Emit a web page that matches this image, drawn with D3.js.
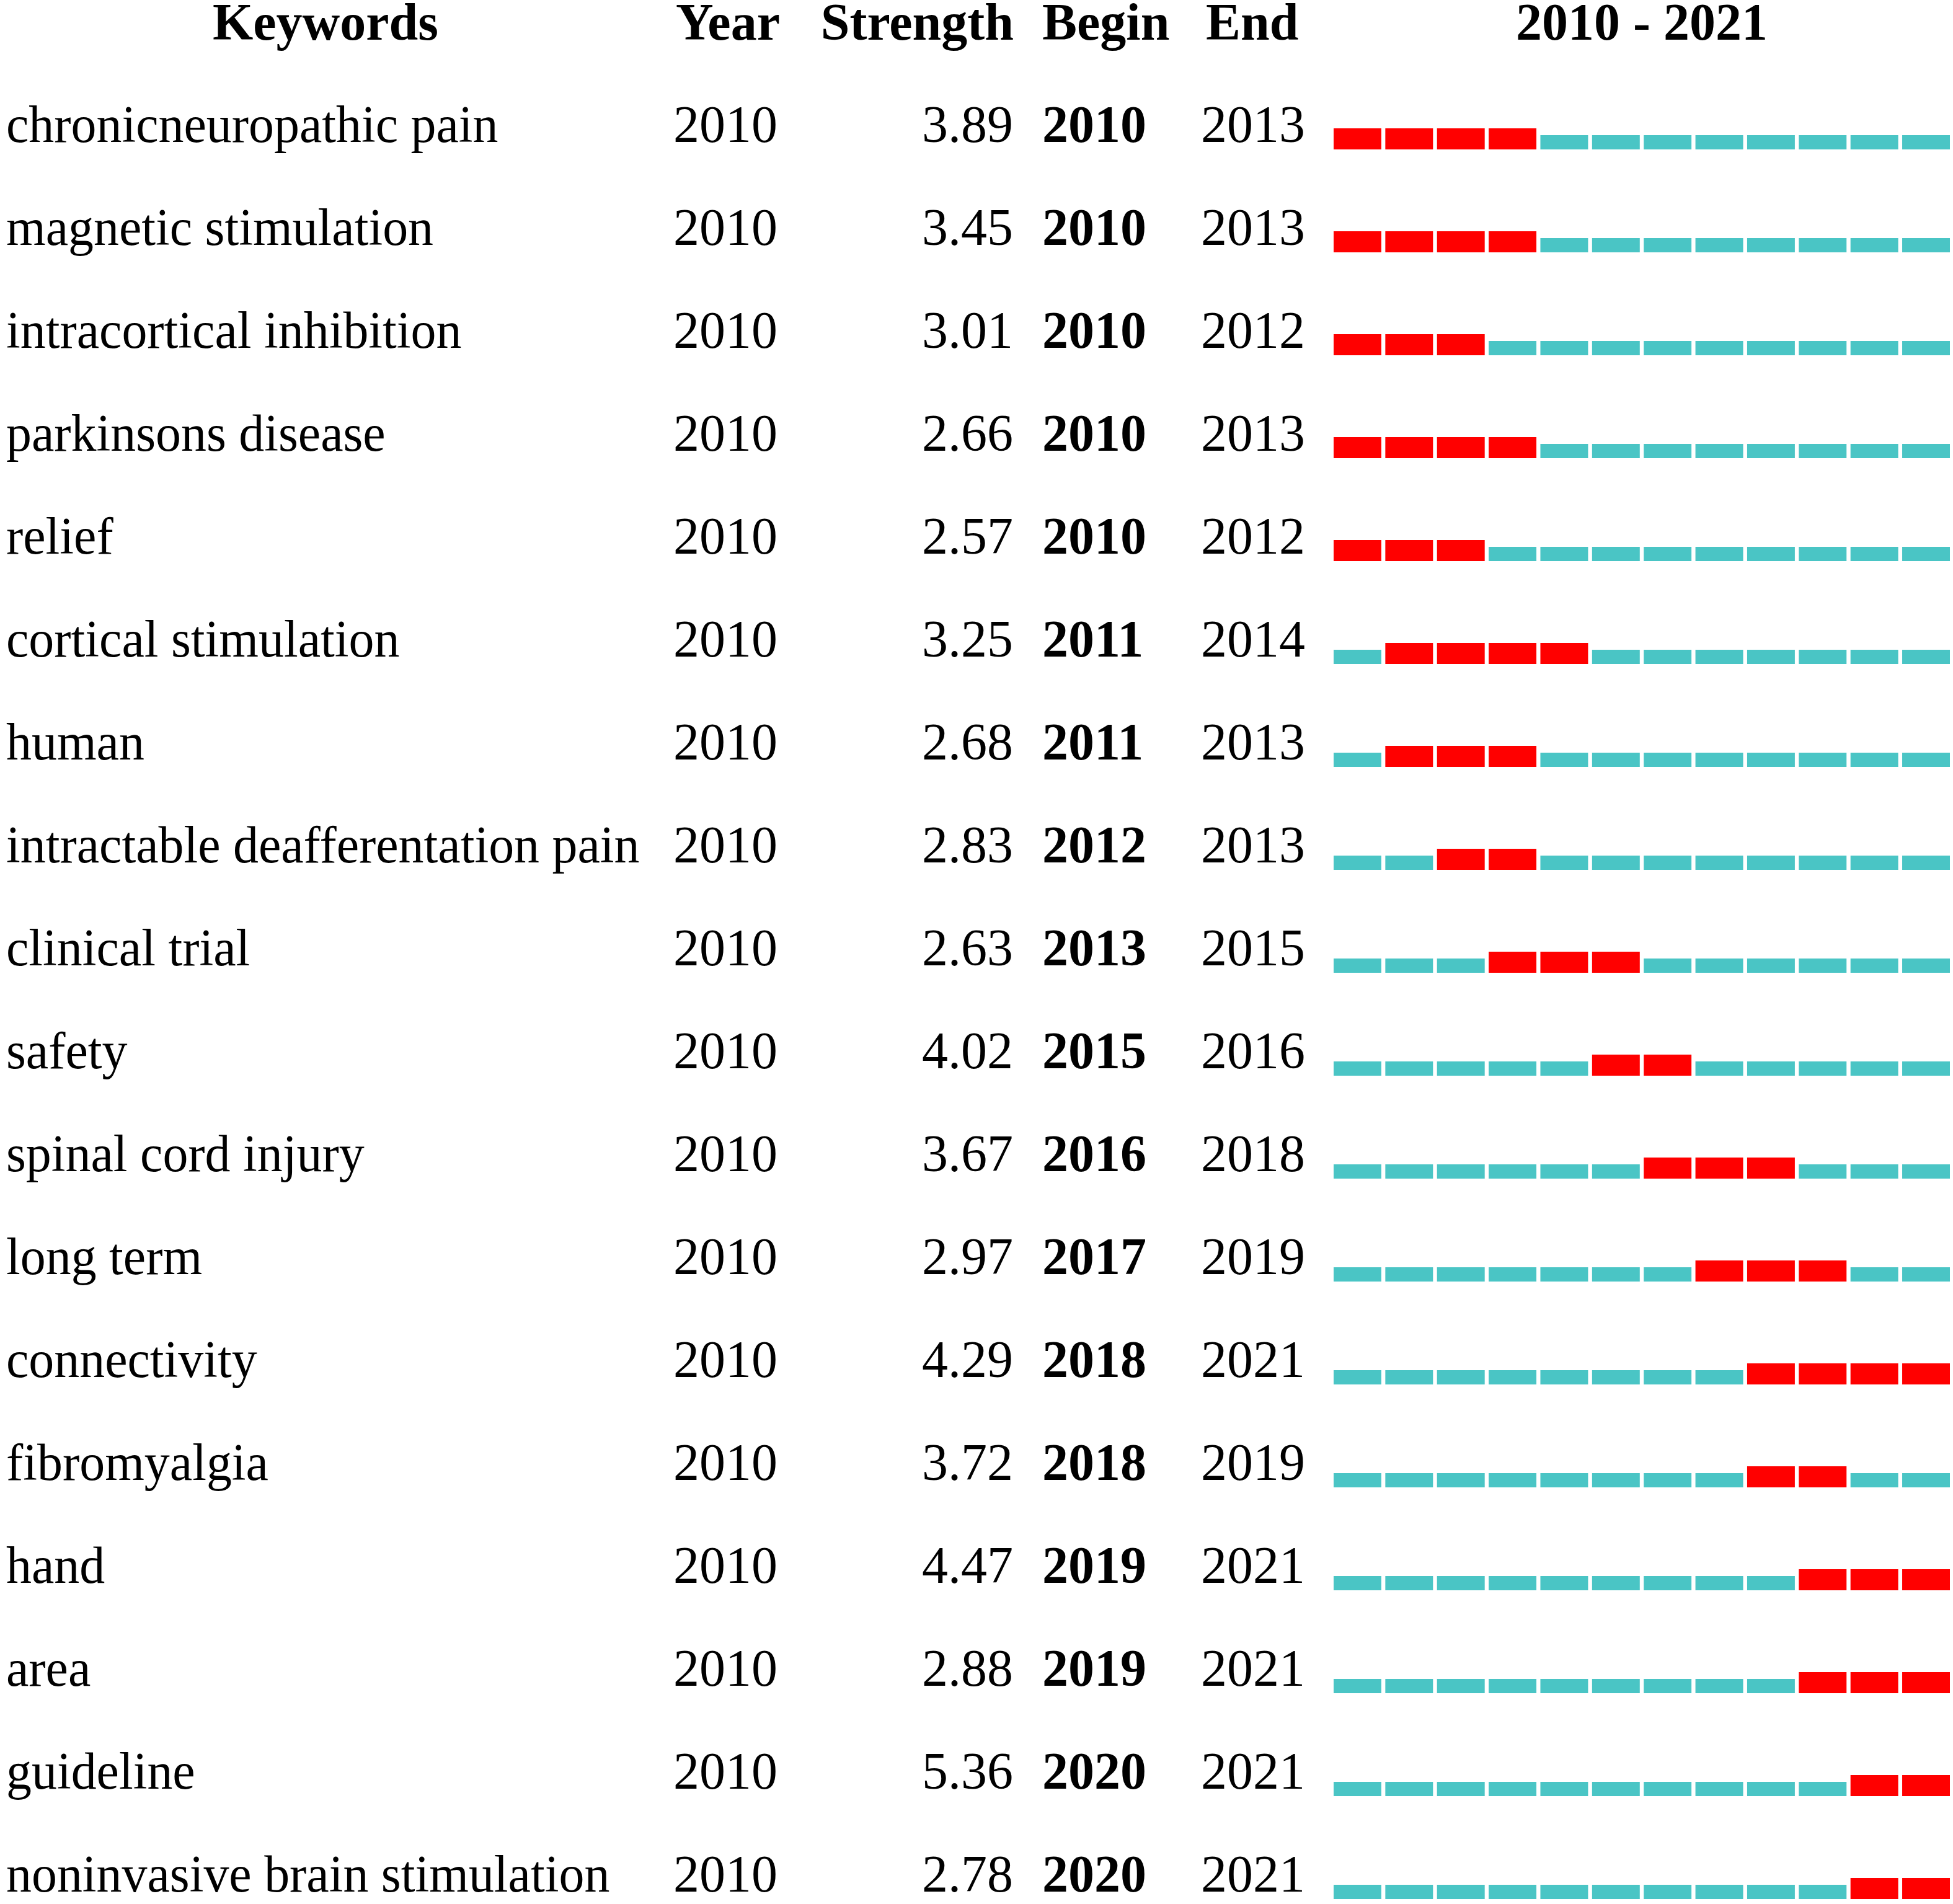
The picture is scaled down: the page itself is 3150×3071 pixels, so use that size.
<!DOCTYPE html>
<html lang="en">
<head>
    <meta charset="UTF-8">
    <title>Keyword bursts</title>
    <script src="https://cdn.jsdelivr.net/npm/d3@7"></script>
    <style>
        body {
            margin: 0;
            padding: 0;
            background: #ffffff;
        }

        text {
            font-family: "Liberation Serif", "Times New Roman", serif;
            font-size: 84px;
            fill: #000000;
        }
    </style>
</head>
<body>
<svg width="3150" height="3071" id="mainsvg"></svg>
<script>
    const keywords = [
        "chronicneuropathic pain", "magnetic stimulation", "intracortical inhibition",
        "parkinsons disease", "relief", "cortical stimulation", "human",
        "intractable deafferentation pain", "clinical trial", "safety",
        "spinal cord injury", "long term", "connectivity", "fibromyalgia",
        "hand", "area", "guideline", "noninvasive brain stimulation"
    ];
    const years = [2010, 2010, 2010, 2010, 2010, 2010, 2010, 2010, 2010,
        2010, 2010, 2010, 2010, 2010, 2010, 2010, 2010, 2010];
    const strengths = ["3.89", "3.45", "3.01", "2.66", "2.57", "3.25", "2.68", "2.83", "2.63",
        "4.02", "3.67", "2.97", "4.29", "3.72", "4.47", "2.88", "5.36", "2.78"];
    const begins = [2010, 2010, 2010, 2010, 2010, 2011, 2011, 2012, 2013,
        2015, 2016, 2017, 2018, 2018, 2019, 2019, 2020, 2020];
    const ends = [2013, 2013, 2012, 2013, 2012, 2014, 2013, 2013, 2015,
        2016, 2018, 2019, 2021, 2019, 2021, 2021, 2021, 2021];
    const timeline = d3.range(2010, 2022);
    const headers = ["Keywords", "Year", "Strength", "Begin", "End", "2010 - 2021"];

    const red = "#ff0000";
    const cyan = "#4ac5c5";

    const svg = d3.select("#mainsvg");

    // row baselines
    const y = d3.scalePoint()
        .domain(d3.range(keywords.length))
        .range([229, 3051]);

    // year cells
    const x = d3.scaleBand()
        .domain(timeline)
        .range([2151, 3145])
        .paddingInner(0.077)
        .paddingOuter(0);

    // header
    const headY = 64;
    const headPos = [
        {x: 525, anchor: "middle"},
        {x: 1090, anchor: "start"},
        {x: 1635, anchor: "end"},
        {x: 1681, anchor: "start"},
        {x: 1945, anchor: "start"},
        {x: (x.range()[0] + x.range()[1]) / 2, anchor: "middle"}
    ];
    svg.append("g")
        .selectAll("text")
        .data(headers)
        .join("text")
        .attr("x", (d, i) => headPos[i].x)
        .attr("y", headY)
        .attr("text-anchor", (d, i) => headPos[i].anchor)
        .attr("font-weight", "bold")
        .text(d => d);

    const rows = svg.append("g")
        .selectAll("g")
        .data(keywords)
        .join("g")
        .attr("transform", (d, i) => "translate(0," + y(i) + ")");

    // keyword column is a touch narrower in the source picture
    const squeeze = 0.975;
    rows.append("text")
        .attr("x", 10 / squeeze)
        .attr("transform", "scale(" + squeeze + ",1)")
        .text(d => d);
    rows.append("text")
        .attr("x", 1086)
        .text((d, i) => years[i]);
    rows.append("text")
        .attr("x", 1634)
        .attr("text-anchor", "end")
        .text((d, i) => strengths[i]);
    rows.append("text")
        .attr("x", 1681)
        .attr("font-weight", "bold")
        .text((d, i) => begins[i]);
    rows.append("text")
        .attr("x", 1937)
        .text((d, i) => ends[i]);

    // burst cells, bottom aligned 12px under the baseline
    rows.each(function (d, i) {
        d3.select(this).selectAll("rect")
            .data(timeline)
            .join("rect")
            .attr("x", t => x(t))
            .attr("width", x.bandwidth())
            .attr("y", t => (t >= begins[i] && t <= ends[i]) ? -22 : -11)
            .attr("height", t => (t >= begins[i] && t <= ends[i]) ? 34 : 23)
            .attr("fill", t => (t >= begins[i] && t <= ends[i]) ? red : cyan);
    });
</script>
</body>
</html>
